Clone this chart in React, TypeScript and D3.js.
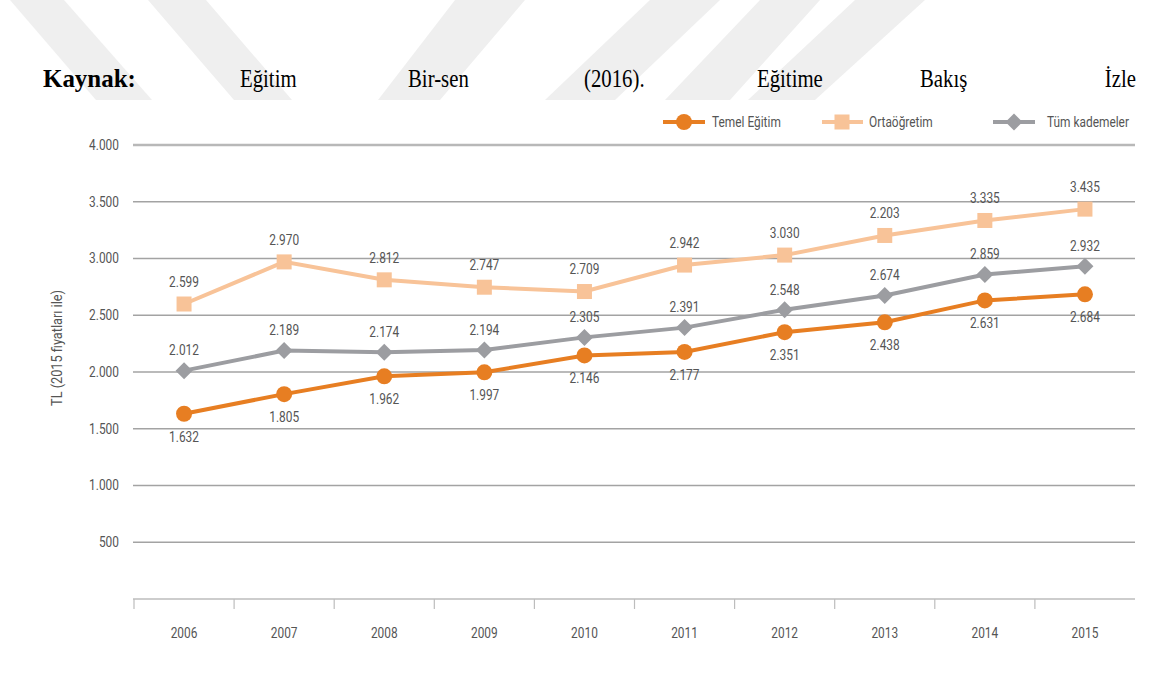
import React from 'react';
import * as d3 from 'd3';

const years = ['2006', '2007', '2008', '2009', '2010', '2011', '2012', '2013', '2014', '2015'];
const temelEgitim = [1632, 1805, 1962, 1997, 2146, 2177, 2351, 2438, 2631, 2684];
const ortaogretim = [2599, 2970, 2812, 2747, 2709, 2942, 3030, 3203, 3335, 3435];
const ortaogretimLabels = ['2.599', '2.970', '2.812', '2.747', '2.709', '2.942', '3.030', '2.203', '3.335', '3.435'];
const tumKademeler = [2012, 2189, 2174, 2194, 2305, 2391, 2548, 2674, 2859, 2932];
const yTicks = [500, 1000, 1500, 2000, 2500, 3000, 3500, 4000];
const seriesNames = ['Temel Eğitim', 'Ortaöğretim', 'Tüm kademeler'];
const headerWords = ['Eğitim', 'Bir-sen', '(2016).', 'Eğitime', 'Bakış'];

const trLocale = d3.formatLocale({ decimal: ',', thousands: '.', grouping: [3], currency: ['', ''] });
const fmt = trLocale.format(',d');

const C_ORANGE = '#E77E22';
const C_PEACH = '#F8C398';
const C_GRAY = '#9C9DA1';
const C_TEXT = '#555555';

const CT = ({ x, y, anchor = 'middle', size = 14, fill = C_TEXT, children }: any) => (
  <text
    transform={`translate(${x},${y}) scale(0.85,1)`}
    textAnchor={anchor}
    fontSize={size}
    fill={fill}
    fontFamily="Roboto, 'Open Sans', sans-serif"
    dominantBaseline="central"
  >
    {children}
  </text>
);

const Marker = ({ kind, x, y, color }: any) => {
  if (kind === 'circle') return <circle cx={x} cy={y} r={8} fill={color} />;
  if (kind === 'square') return <rect x={x - 7.5} y={y - 7.5} width={15} height={15} fill={color} />;
  const s = 8.5;
  return <polygon points={`${x},${y - s} ${x + s},${y} ${x},${y + s} ${x - s},${y}`} fill={color} />;
};

export default function App() {
  const x = d3.scaleBand<string>().domain(years).range([134, 1135]).padding(0);
  const y = d3.scaleLinear().domain([0, 4000]).range([599, 145]);
  const cx = (yr: string) => (x(yr) as number) + x.bandwidth() / 2;
  const line = d3
    .line<number>()
    .x((_, i) => cx(years[i]))
    .y((v) => y(v));

  const series = [
    { data: ortaogretim, color: C_PEACH, kind: 'square', labels: ortaogretimLabels, dy: -22 },
    { data: tumKademeler, color: C_GRAY, kind: 'diamond', labels: tumKademeler.map(fmt), dy: -20 },
    { data: temelEgitim, color: C_ORANGE, kind: 'circle', labels: temelEgitim.map(fmt), dy: 23 },
  ];

  const stripes = [
    [[10, 0], [64, 0], [152, 100], [96, 100]],
    [[148, 0], [206, 0], [292, 100], [234, 100]],
    [[455, 0], [525, 0], [440, 100], [378, 100]],
    [[650, 0], [720, 0], [615, 100], [545, 100]],
    [[760, 0], [820, 0], [730, 100], [665, 100]],
    [[855, 0], [925, 0], [815, 100], [748, 100]],
  ];

  const legend = [
    { name: seriesNames[0], x0: 663, x1: 705, mx: 684, tx: 712, color: C_ORANGE, kind: 'circle' },
    { name: seriesNames[1], x0: 822, x1: 863, mx: 842, tx: 869, color: C_PEACH, kind: 'square' },
    { name: seriesNames[2], x0: 993, x1: 1035, mx: 1014, tx: 1047, color: C_GRAY, kind: 'diamond' },
  ];

  const wordX = [240, 408, 584, 757, 920];

  return (
    <svg width={1156} height={679} style={{ position: 'absolute', left: 0, top: 0, background: '#fff' }}>
      <rect x={0} y={0} width={1156} height={679} fill="#fff" />
      {stripes.map((p, i) => (
        <polygon key={i} points={p.map((q) => q.join(',')).join(' ')} fill="#efefef" />
      ))}
      <g fontFamily="'Liberation Serif', 'Times New Roman', serif" fontSize={26} fill="#000">
        <text transform="translate(43,87) scale(0.96,1)" fontWeight="bold">Kaynak:</text>
        {headerWords.map((w, i) => (
          <text key={w} transform={`translate(${wordX[i]},87) scale(0.8,1)`}>{w}</text>
        ))}
        <text transform="translate(1136,87) scale(0.8,1)" textAnchor="end">İzle</text>
      </g>

      {/* legend */}
      {legend.map((l) => (
        <g key={l.name}>
          <line x1={l.x0} x2={l.x1} y1={122} y2={122} stroke={l.color} strokeWidth={4} />
          <Marker kind={l.kind} x={l.mx} y={122} color={l.color} />
          <CT x={l.tx} y={122} anchor="start" size={14}>{l.name}</CT>
        </g>
      ))}

      {/* gridlines */}
      {yTicks.map((t) => (
        <g key={t}>
          <line
            x1={133}
            x2={1135}
            y1={y(t)}
            y2={y(t)}
            stroke={t === 4000 ? '#b8b8b8' : '#a3a3a3'}
            strokeWidth={t === 4000 ? 2.5 : 1.4}
          />
          <CT x={119} y={y(t)} anchor="end" size={14}>{fmt(t)}</CT>
        </g>
      ))}

      {/* x axis */}
      <line x1={133} x2={1135} y1={y(0)} y2={y(0)} stroke="#bdbdbd" strokeWidth={1.5} />
      {years.map((yr) => (
        <line key={yr} x1={x(yr)} x2={x(yr)} y1={y(0)} y2={y(0) + 10} stroke="#bdbdbd" strokeWidth={1.2} />
      ))}
      {years.map((yr) => (
        <CT key={yr} x={cx(yr)} y={633} size={14}>{yr}</CT>
      ))}

      {/* y title */}
      <text
        transform="translate(57,348) rotate(-90) scale(0.85,1)"
        textAnchor="middle"
        dominantBaseline="central"
        fontSize={15}
        fill={C_TEXT}
        fontFamily="Roboto, sans-serif"
      >
        TL (2015 fiyatları ile)
      </text>

      {/* series */}
      {series.map((s, si) => (
        <g key={si}>
          <path d={line(s.data) as string} fill="none" stroke={s.color} strokeWidth={4} />
          {s.data.map((v, i) => (
            <Marker key={i} kind={s.kind} x={cx(years[i])} y={y(v)} color={s.color} />
          ))}
          {s.data.map((v, i) => (
            <CT key={'l' + i} x={cx(years[i])} y={y(v) + s.dy} size={14}>{s.labels[i]}</CT>
          ))}
        </g>
      ))}
    </svg>
  );
}
